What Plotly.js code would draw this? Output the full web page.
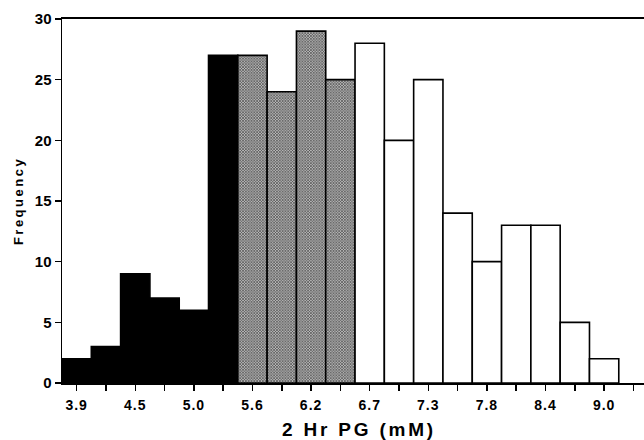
<!DOCTYPE html>
<html><head><meta charset="utf-8">
<script src="https://cdn.plot.ly/plotly-3.0.1.min.js"></script>
<style>
html,body{margin:0;padding:0;overflow:hidden;background:#fff}
#chart .xtitle{letter-spacing:2.8px}
#chart .ytitle{letter-spacing:2.5px}
#chart .xtick text{letter-spacing:1px}
</style></head><body><div id="chart"></div>
<script>
// Frequency of each 2-hour plasma glucose bin (left to right)
const frequency = [2, 3, 9, 7, 6, 27, 27, 24, 29, 25, 28, 20, 25, 14, 10, 13, 13, 5, 2];
// Shading group of each bin
const group = ['low','low','low','low','low','low',
               'mid','mid','mid','mid',
               'high','high','high','high','high','high','high','high','high'];
// Labels shown under every other bin
const tickLabels = ['3.9', '4.5', '5.0', '5.6', '6.2', '6.7', '7.3', '7.8', '8.4', '9.0'];

const styles = {
  low:  {color: '#000000'},
  mid:  {color: '#8a8a8a', pattern: {shape: 'x', size: 2, solidity: 0.5, fgcolor: '#3a3a3a', bgcolor: '#b8b8b8', fillmode: 'replace'}},
  high: {color: '#ffffff'}
};

const bins = frequency.map((_, i) => i);
const traces = ['low', 'mid', 'high'].map(g => {
  const idx = bins.filter(i => group[i] === g);
  const m = Object.assign({line: {color: '#000', width: 1.6}}, styles[g]);
  return {
    type: 'bar',
    x: idx,
    y: idx.map(i => frequency[i]),
    width: 1,
    marker: m,
    showlegend: false,
    hoverinfo: 'skip'
  };
});

const tickvals = [];
const ticktext = [];
for (let i = 0; i <= frequency.length; i++) {
  tickvals.push(i);
  ticktext.push(i % 2 === 0 && tickLabels[i / 2] !== undefined ? tickLabels[i / 2] : '');
}

const font = {family: '"Liberation Sans", Arial, sans-serif', color: '#000'};

const layout = {
  width: 656, height: 440,
  margin: {l: 62, r: 0, t: 19, b: 57, pad: 0},
  paper_bgcolor: '#fff', plot_bgcolor: '#fff',
  bargap: 0, barmode: 'overlay',
  font: font,
  xaxis: {
    range: [-0.5, 19.77],
    tickmode: 'array', tickvals: tickvals, ticktext: ticktext,
    ticks: 'outside', ticklen: 6, tickwidth: 1.5, tickcolor: '#000',
    ticklabelstandoff: 2,
    showline: true, linewidth: 2, linecolor: '#000', mirror: true,
    showgrid: false, zeroline: false,
    tickfont: {family: font.family, size: 14, weight: 'bold', color: '#000'},
    title: {text: '2 Hr PG (mM)', standoff: 11, font: {family: font.family, size: 19, weight: 'bold', color: '#000'}}
  },
  yaxis: {
    range: [0, 30], dtick: 5, tick0: 0,
    ticks: 'outside', ticklen: 6, tickwidth: 1.5, tickcolor: '#000',
    showline: true, linewidth: 1.5, linecolor: '#000',
    showgrid: false, zeroline: false,
    tickfont: {family: font.family, size: 15, weight: 'bold', color: '#000'},
    title: {text: 'Frequency', standoff: 8, font: {family: font.family, size: 13, weight: 'bold', color: '#000'}}
  }
};

Plotly.newPlot('chart', traces, layout, {displayModeBar: false, staticPlot: true});
</script>
</body></html>
